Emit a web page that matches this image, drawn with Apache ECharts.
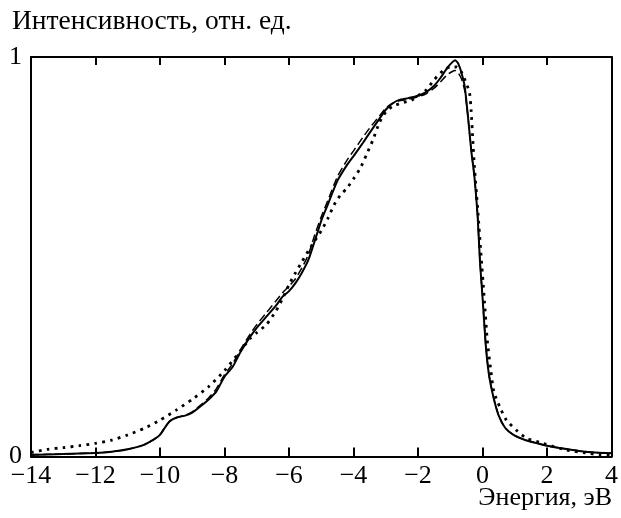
<!DOCTYPE html>
<html>
<head>
<meta charset="utf-8">
<script src="https://cdn.jsdelivr.net/npm/echarts@6/dist/echarts.min.js"></script>
<style>
    html, body { margin: 0; padding: 0; background: #fff; }
    #chart { width: 621px; height: 518px; }
</style>
</head>
<body>
<div id="chart"></div>
<script>
// energy grid (eV) shared by the solid and dashed curves
var energyA = [-14, -13, -12, -11.5, -11, -10.5, -10.2, -10, -9.85, -9.7, -9.5, -9.2, -9, -8.75, -8.5, -8.25, -8,
    -7.75, -7.5, -7.2, -7, -6.7, -6.4, -6.2, -6, -5.8, -5.6, -5.4, -5.2, -5, -4.8, -4.5, -4.2, -4, -3.7, -3.5,
    -3.2, -3, -2.8, -2.6, -2.3, -2, -1.75, -1.5, -1.3, -1.1, -0.95, -0.85, -0.75, -0.65, -0.55, -0.45, -0.35,
    -0.25, -0.15, -0.08, 0, 0.1, 0.2, 0.35, 0.5, 0.7, 0.95, 1.3, 1.6, 2, 2.5, 3, 3.5, 4];
//сплошная кривая
var solidY = [0.004, 0.006, 0.009, 0.012, 0.018, 0.029, 0.042, 0.054, 0.072, 0.088, 0.097, 0.103, 0.11, 0.125, 0.142, 0.163, 0.2,
    0.224, 0.262, 0.3, 0.322, 0.35, 0.378, 0.4, 0.414, 0.434, 0.46, 0.492, 0.54, 0.59, 0.63, 0.69, 0.73, 0.752, 0.786, 0.81,
    0.845, 0.868, 0.883, 0.892, 0.897, 0.903, 0.912, 0.928, 0.948, 0.972, 0.986, 0.992, 0.983, 0.96, 0.925, 0.85, 0.767,
    0.7, 0.6, 0.49, 0.4, 0.28, 0.205, 0.145, 0.103, 0.072, 0.055, 0.042, 0.035, 0.027, 0.02, 0.014, 0.01, 0.008];
//штриховая кривая
var dashedY = [0.005, 0.006, 0.009, 0.012, 0.018, 0.029, 0.042, 0.055, 0.073, 0.088, 0.097, 0.104, 0.112, 0.128, 0.146, 0.17, 0.205,
    0.232, 0.268, 0.307, 0.33, 0.36, 0.39, 0.41, 0.426, 0.445, 0.472, 0.505, 0.555, 0.6, 0.64, 0.7, 0.742, 0.765, 0.8, 0.822,
    0.852, 0.872, 0.884, 0.89, 0.894, 0.9, 0.908, 0.922, 0.938, 0.955, 0.963, 0.966, 0.96, 0.945, 0.915, 0.85, 0.767,
    0.7, 0.6, 0.49, 0.4, 0.28, 0.205, 0.145, 0.103, 0.072, 0.055, 0.042, 0.035, 0.027, 0.02, 0.014, 0.01, 0.008];
//пунктирная кривая
var energyB = [-14, -13.5, -13, -12.5, -12, -11.5, -11, -10.5, -10, -9.5, -9, -8.5, -8, -7.5, -7.2, -7, -6.7, -6.4, -6.2,
    -6, -5.8, -5.6, -5.4, -5.2, -5, -4.8, -4.6, -4.4, -4.2, -4, -3.8, -3.6, -3.4, -3.2, -3, -2.8, -2.5, -2.2, -2, -1.75,
    -1.5, -1.2, -1, -0.8, -0.65, -0.5, -0.4, -0.35, -0.3, -0.25, -0.15, -0.05, 0.05, 0.15, 0.25, 0.35, 0.53, 0.74, 1.05,
    1.36, 1.87, 2.6, 3.2, 3.63, 4];
var dottedY = [0.01, 0.018, 0.022, 0.027, 0.033, 0.041, 0.054, 0.07, 0.091, 0.116, 0.143, 0.174, 0.215, 0.265, 0.296, 0.31, 0.33, 0.365, 0.395,
    0.43, 0.46, 0.487, 0.515, 0.54, 0.565, 0.595, 0.63, 0.655, 0.672, 0.695, 0.72, 0.755, 0.792, 0.835, 0.862, 0.876, 0.885, 0.892, 0.903, 0.917,
    0.943, 0.968, 0.975, 0.975, 0.962, 0.934, 0.909, 0.863, 0.792, 0.725, 0.62, 0.51, 0.4, 0.29, 0.22, 0.163, 0.125, 0.091, 0.066,
    0.046, 0.033, 0.016, 0.009, 0.004, 0.003];
var xTicks = {min: -14, max: 4, interval: 2};

function pairs(xs, ys) {
    var out = [];
    for (var i = 0; i < xs.length; i++) {
        out.push([xs[i], ys[i]]);
    }
    return out;
}

var chart = echarts.init(document.getElementById('chart'), null, {renderer: 'canvas'});
var font = '"Liberation Serif", "DejaVu Serif", serif';
var option = {
    animation: false,
    backgroundColor: '#fff',
    grid: {left: 31, right: 9, top: 57, bottom: 61.5, containLabel: false},
    xAxis: [{
        type: 'value', min: xTicks.min, max: xTicks.max, interval: xTicks.interval, position: 'bottom',
        axisLine: {show: true, onZero: false, lineStyle: {color: '#000', width: 2}},
        axisTick: {show: true, inside: true, length: 9, lineStyle: {color: '#000', width: 2}},
        axisLabel: {
            margin: 7, color: '#000', fontFamily: font, fontSize: 26,
            formatter: function (v) { return String(v).replace('-', '\u2212'); }
        },
        splitLine: {show: false}
    }, {
        type: 'value', min: xTicks.min, max: xTicks.max, interval: xTicks.interval, position: 'top',
        axisLine: {show: true, onZero: false, lineStyle: {color: '#000', width: 2}},
        axisTick: {show: true, inside: true, length: 8, lineStyle: {color: '#000', width: 2}},
        axisLabel: {show: false},
        splitLine: {show: false}
    }],
    yAxis: [{
        type: 'value', min: 0, max: 1, interval: 1, position: 'left',
        axisLine: {show: true, onZero: false, lineStyle: {color: '#000', width: 2}},
        axisTick: {show: false},
        axisLabel: {margin: 9, color: '#000', fontFamily: font, fontSize: 26},
        splitLine: {show: false}
    }, {
        type: 'value', min: 0, max: 1, interval: 1, position: 'right',
        axisLine: {show: true, onZero: false, lineStyle: {color: '#000', width: 2}},
        axisTick: {show: false},
        axisLabel: {show: false},
        splitLine: {show: false}
    }],
    graphic: [{
        type: 'text', left: 12, top: 8,
        style: {text: 'Интенсивность, отн. ед.', fill: '#000', font: '27.5px ' + font}
    }, {
        type: 'text', right: 9, top: 485,
        style: {text: 'Энергия, эВ', fill: '#000', font: '26px ' + font}
    }],
    series: [{
        name: 'solid', type: 'line', data: pairs(energyA, solidY), showSymbol: false, smooth: 0.2,
        lineStyle: {color: '#000', width: 2}
    }, {
        name: 'dashed', type: 'line', data: pairs(energyA, dashedY), showSymbol: false, smooth: 0.2,
        lineStyle: {color: '#000', width: 1.5, type: [8, 4]}
    }, {
        name: 'dotted', type: 'line', data: pairs(energyB, dottedY), showSymbol: false, smooth: 0.2,
        lineStyle: {color: '#000', width: 2.8, type: [2.8, 5.2]}
    }]
};
chart.setOption(option);
</script>
</body>
</html>
